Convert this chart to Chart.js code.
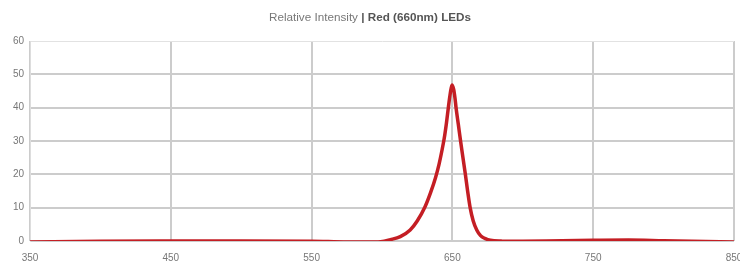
<!DOCTYPE html>
<html>
<head>
<meta charset="utf-8">
<script src="https://cdn.jsdelivr.net/npm/chart.js@4"></script>
<style>
  html, body { margin: 0; padding: 0; background: #fff; }
  #wrap { position: relative; width: 740px; height: 261px; }
  #title {
    position: absolute; top: 10px; left: 0; width: 740px; text-align: center;
    font: 300 11.7px "Liberation Sans", Arial, sans-serif; color: #777;
  }
  #title b { font-weight: bold; color: #555; }
</style>
</head>
<body>
<div id="wrap">
  <div id="title">Relative Intensity <b>| Red (660nm) LEDs</b></div>
  <canvas id="spec" width="740" height="261"></canvas>
</div>
<script>
/* Red LED spectrum */
const wavelengths = [350, 400, 450, 500, 550, 575, 590, 599, 606, 613, 620, 625, 630.5, 634.5, 638, 640.5, 642.5, 644.2, 645.8, 647.2, 648.5, 649.7, 650.9, 651.8, 652.6, 654.2, 655.8, 657.5, 659.2, 660.8, 662.6, 664.8, 667.3, 670, 673, 677, 685, 700, 750, 775, 800, 850];
const intensity   = [-0.3, -0.1, 0, 0, -0.05, -0.3, -0.3, -0.2, 0.4, 1.3, 3.3, 6, 10.2, 14.5, 19, 23, 27, 30.8, 35.5, 40.3, 44.3, 46.8, 45.5, 43, 40, 35, 30, 25, 20, 15, 10, 6, 3.3, 1.6, 0.8, 0.2, 0, -0.1, 0.2, 0.3, 0.1, -0.3];
const xTicks = [350, 450, 550, 650, 750, 850];
const yTicks = [0, 10, 20, 30, 40, 50, 60];

const points = wavelengths.map((w, i) => ({ x: w, y: intensity[i] }));
const tickFont = { family: '"Liberation Sans", Arial, sans-serif', size: 10 };

new Chart(document.getElementById('spec'), {
  type: 'line',
  data: {
    datasets: [{
      data: points,
      borderColor: '#c41e24',
      borderWidth: 3.5,
      pointRadius: 0,
      fill: false,
      cubicInterpolationMode: 'monotone'
    }]
  },
  options: {
    responsive: false,
    animation: false,
    layout: { padding: { top: 41, right: 6, left: 0, bottom: 0 } },
    plugins: { legend: { display: false }, tooltip: { enabled: false } },
    scales: {
      x: {
        type: 'linear', min: 350, max: 850,
        afterBuildTicks: s => { s.ticks = xTicks.map(v => ({ value: v })); },
        afterFit: s => { s.height = 20; s.paddingLeft = 0; s.paddingRight = 0; },
        grid: { color: '#cccccc', lineWidth: 2, drawTicks: false },
        border: { display: false },
        ticks: { font: tickFont, color: '#777', padding: 11, maxRotation: 0, autoSkip: false }
      },
      y: {
        min: 0, max: 60,
        afterBuildTicks: s => { s.ticks = yTicks.map(v => ({ value: v })); },
        afterFit: s => { s.width = 30; s.paddingTop = 0; s.paddingBottom = 0; },
        grid: {
          color: c => (c.tick && c.tick.value === 60) ? '#e2e2e2' : '#cccccc',
          lineWidth: c => (c.tick && c.tick.value === 60) ? 1 : 2,
          drawTicks: false
        },
        border: { display: true, color: '#dddddd', width: 1 },
        ticks: { font: tickFont, color: '#777', padding: 6 }
      }
    }
  }
});
</script>
</body>
</html>
